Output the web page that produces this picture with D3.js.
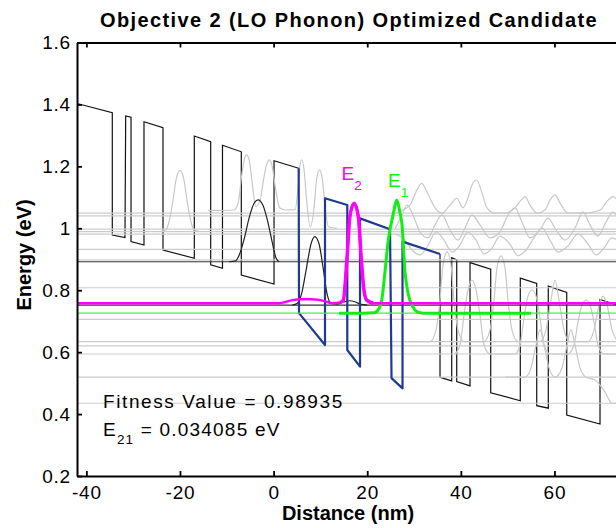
<!DOCTYPE html>
<html>
<head>
<meta charset="utf-8">
<script src="https://cdn.jsdelivr.net/npm/d3@7/dist/d3.min.js"></script>
<style>
  body { margin: 0; background: #fff; }
  svg { display: block; font-family: "Liberation Sans", Arial, sans-serif; }
  .axis text { font-size: 19px; fill: #000; letter-spacing: 0.8px; }
  .axis path, .axis line { stroke: #000; }
</style>
</head>
<body>
<script>
// tick values
var xTicks = [-40, -20, 0, 20, 40, 60];
var yTicks = [0.2, 0.4, 0.6, 0.8, 1.0, 1.2, 1.4, 1.6];

// conduction band edge, left (black) part: [nm, eV]
var bandLeft = [
    [-42, 1.403], [-34.46, 1.373], [-34.46, 0.978], [-31.75, 0.970],
    [-31.6, 1.363], [-30.46, 1.359], [-30.46, 0.957], [-27.69, 0.946],
    [-27.69, 1.344], [-23.63, 1.325], [-23.63, 0.930], [-16.94, 0.903],
    [-16.94, 1.298], [-13.44, 1.280], [-13.44, 0.882], [-10.92, 0.871],
    [-10.92, 1.268], [-6.9, 1.247], [-6.9, 0.849], [0.09, 0.820],
    [0.09, 1.218], [5.36, 1.194]
];

// active region (blue)
var bandActive = [
    [5.36, 1.194], [5.43, 0.726], [10.98, 0.623], [10.98, 1.097],
    [15.74, 1.075], [15.74, 0.607], [18.46, 0.553], [18.46, 1.032],
    [24.87, 0.997], [25.19, 0.516], [27.54, 0.483], [27.54, 0.957],
    [35.55, 0.917]
];

// band edge, right (black) part
var bandRight = [
    [35.55, 0.917], [35.55, 0.519], [38.05, 0.507], [38.05, 0.905],
    [39.12, 0.898], [39.12, 0.505], [41.96, 0.491], [41.96, 0.889],
    [46.38, 0.868], [46.38, 0.469], [52.7, 0.443], [52.7, 0.839],
    [56.21, 0.822], [56.21, 0.427], [58.68, 0.419], [58.68, 0.813],
    [62.62, 0.793], [62.62, 0.397], [69.73, 0.368], [69.73, 0.770],
    [74, 0.749]
];

// eigen-energies (eV)
var grayLevels = [1.049, 1.040, 0.997, 0.989, 0.981, 0.932, 0.898, 0.808,
                  0.706, 0.634, 0.620, 0.594, 0.519, 0.435];
var blackLevels = [0.892, 0.752];
var e2Level = 0.758;
var e1Level = 0.726;

// gray wavefunctions
var waveG1 = [[-24, 0.990], [-23, 0.995], [-22.2, 1.03], [-21.5, 1.09], [-20.8, 1.16],
    [-20, 1.187], [-19.2, 1.16], [-18.5, 1.09], [-17.8, 1.03], [-17, 0.995], [-16, 0.990]];
var waveG2 = [[-14, 1.057], [-8.5, 1.059], [-7.6, 1.08], [-6.9, 1.16], [-6.3, 1.22],
    [-5.8, 1.237], [-5.2, 1.22], [-4.6, 1.15], [-3.8, 1.07], [-2.9, 1.09], [-2.0, 1.17],
    [-1.4, 1.21], [-0.9, 1.221], [-0.3, 1.20], [0.4, 1.13], [1.3, 1.066], [2.5, 1.059],
    [4.6, 1.06], [5.2, 1.13], [5.6, 1.20], [6.0, 1.221], [6.5, 1.19], [7.0, 1.10],
    [7.8, 1.005], [8.6, 1.06], [9.2, 1.16], [9.8, 1.188], [10.4, 1.16], [11.0, 1.07],
    [11.7, 1.005], [13.5, 1.0]];
var waveR1 = [[25.93, 1.049], [29.14, 1.075], [30.63, 1.124], [31.64, 1.145], [32.77, 1.117],
    [34.48, 1.066], [35.98, 1.049], [37.68, 1.075], [39.12, 1.097], [40.46, 1.066],
    [41.53, 1.098], [42.38, 1.140], [43.39, 1.156], [44.31, 1.124], [45.59, 1.066],
    [47.30, 1.049], [49.43, 1.049], [51.57, 1.066], [52.85, 1.091], [53.71, 1.102],
    [54.78, 1.075], [56.27, 1.049], [57.98, 1.059], [59.05, 1.091], [60.12, 1.108],
    [61.18, 1.082], [62.89, 1.049], [66.53, 1.049], [69.73, 1.059], [71.44, 1.091],
    [72.57, 1.102], [74, 1.075]];
var waveR2 = [[25.93, 0.998], [27.43, 1.043], [28.50, 1.075], [29.78, 1.043], [31.28, 0.988],
    [32.99, 0.969], [34.48, 1.011], [35.98, 1.043], [37.68, 0.995], [39.39, 0.962],
    [40.89, 1.001], [42.38, 1.043], [44.09, 1.011], [46.23, 0.969], [48.36, 0.988],
    [50.07, 1.043], [51.57, 1.066], [53.06, 1.020], [54.78, 0.969], [56.91, 0.995],
    [58.62, 1.033], [60.33, 0.995], [62.25, 0.962], [64.39, 1.001], [66.10, 1.053],
    [67.59, 1.011], [69.30, 0.975], [71.01, 1.020], [72.51, 1.053], [74, 1.011]];
var waveR3 = [[25.93, 0.982], [28.07, 0.962], [29.57, 0.930], [31.28, 0.914], [32.99, 0.946],
    [34.70, 0.988], [36.41, 0.962], [38.11, 0.923], [39.82, 0.946], [41.53, 0.988],
    [43.24, 0.962], [44.95, 0.917], [46.66, 0.936], [48.36, 0.975], [50.50, 0.949],
    [52.21, 0.911], [53.92, 0.930], [55.63, 0.969], [57.34, 1.001], [59.05, 0.962],
    [60.76, 0.923], [62.89, 0.943], [65.03, 0.982], [67.17, 0.949], [68.88, 0.914],
    [70.58, 0.936], [72.29, 0.969], [74, 0.956]];
var waveL1 = [[28.07, 0.634], [33.41, 0.634], [34.70, 0.672], [35.55, 0.768], [36.19, 0.882],
    [37.05, 0.924], [37.90, 0.882], [38.54, 0.768], [39.39, 0.672], [40.68, 0.634],
    [44.95, 0.634], [46.23, 0.672], [47.08, 0.768], [47.72, 0.872], [48.58, 0.911],
    [49.43, 0.872], [50.07, 0.768], [50.92, 0.672], [52.21, 0.634], [56.91, 0.634],
    [58.19, 0.672], [59.26, 0.768], [60.12, 0.833], [60.97, 0.768], [62.04, 0.672],
    [63.32, 0.634], [67.17, 0.634], [68.45, 0.672], [69.52, 0.752], [70.37, 0.781],
    [71.23, 0.752], [72.29, 0.672], [73.57, 0.634]];
var waveL2 = [[38.75, 0.594], [39.82, 0.623], [40.68, 0.720], [41.53, 0.801], [42.38, 0.833],
    [43.24, 0.801], [44.09, 0.720], [44.95, 0.623], [46.23, 0.594], [51.57, 0.594],
    [52.64, 0.623], [53.49, 0.710], [54.35, 0.781], [55.20, 0.801], [56.06, 0.781],
    [56.91, 0.710], [57.77, 0.623], [59.05, 0.594], [62.89, 0.594], [64.17, 0.623],
    [65.03, 0.697], [65.88, 0.752], [66.74, 0.768], [67.59, 0.752], [68.45, 0.697],
    [69.30, 0.623], [70.58, 0.594], [74, 0.594]];
var waveL3 = [[49.43, 0.519], [53.71, 0.519], [54.99, 0.549], [56.06, 0.623], [56.91, 0.672],
    [57.77, 0.623], [58.84, 0.549], [60.12, 0.519], [61.61, 0.549], [62.68, 0.623],
    [63.53, 0.672], [64.39, 0.623], [65.46, 0.549], [66.74, 0.519], [68.66, 0.510],
    [70.80, 0.471], [72.29, 0.435], [74, 0.435]];

// black wavefunctions
var waveB1 = [[-9.5, 0.892], [-8.2, 0.894], [-7.3, 0.915], [-6.3, 0.965], [-5.2, 1.035],
    [-4.2, 1.080], [-3.3, 1.092], [-2.3, 1.075], [-1.3, 1.025], [-0.3, 0.955],
    [0.5, 0.905], [1.2, 0.892]];
var waveB2 = [[4.0, 0.752], [5.0, 0.757], [6.0, 0.79], [7.0, 0.87], [8.0, 0.95], [8.8, 0.973],
    [9.7, 0.95], [10.6, 0.87], [11.4, 0.79], [12.3, 0.757], [13.5, 0.755], [15.0, 0.762],
    [16.3, 0.766], [17.5, 0.762], [18.7, 0.754], [20, 0.752]];

// E2 (magenta) and E1 (green) wavefunctions
var waveE2 = [[-42, 0.758], [1.0, 0.758], [2.5, 0.762], [4.0, 0.768], [6.0, 0.771],
    [8.0, 0.771], [10.0, 0.768], [11.5, 0.762], [12.5, 0.758], [14.2, 0.760], [14.9, 0.768],
    [15.7, 0.908], [16.3, 1.038], [17.2, 1.081], [18.1, 1.038], [18.7, 0.908], [19.3, 0.80],
    [19.9, 0.768], [21.3, 0.758], [74, 0.758]];
var waveE1 = [[14, 0.726], [19, 0.726], [21.5, 0.727], [22.5, 0.74], [23.1, 0.768],
    [23.8, 0.86], [24.5, 0.962], [25.6, 1.049], [26.3, 1.091], [27.0, 1.05], [27.4, 1.016],
    [28.1, 0.855], [28.6, 0.80], [29.1, 0.768], [29.8, 0.745], [30.6, 0.731], [32, 0.726],
    [55, 0.726]];

var width = 616, height = 528;
var margin = {top: 42.5, left: 77, bottom: 52};

var svg = d3.select("body").append("svg")
    .attr("width", width)
    .attr("height", height);

var x = d3.scaleLinear().domain([-42, 74]).range([margin.left, 620]);
var y = d3.scaleLinear().domain([0.2, 1.6]).range([height - margin.bottom, margin.top]);

svg.append("clipPath").attr("id", "plot")
    .append("rect")
    .attr("x", margin.left).attr("y", margin.top)
    .attr("width", 620 - margin.left).attr("height", y(0.2) - margin.top);

var plot = svg.append("g").attr("clip-path", "url(#plot)");

var line = d3.line().x(function(d) { return x(d[0]); }).y(function(d) { return y(d[1]); });
var smooth = d3.line().curve(d3.curveMonotoneX)
    .x(function(d) { return x(d[0]); }).y(function(d) { return y(d[1]); });

// black band edge first, gray lines drawn over it like in the original
[bandLeft, bandRight].forEach(function(b) {
    plot.append("path").attr("d", line(b))
        .attr("fill", "none").attr("stroke", "#111").attr("stroke-width", 1.2);
});

plot.selectAll(".level").data(grayLevels).enter().append("line")
    .attr("class", "level")
    .attr("x1", x(-42)).attr("x2", x(74))
    .attr("y1", function(d) { return y(d); }).attr("y2", function(d) { return y(d); })
    .attr("stroke", "#cccccc").attr("stroke-width", 1.2);

[waveG1, waveG2, waveR1, waveR2, waveR3, waveL1, waveL2, waveL3].forEach(function(w) {
    plot.append("path").attr("d", smooth(w))
        .attr("fill", "none").attr("stroke", "#c8c8c8").attr("stroke-width", 1.2);
});

// black levels + wavefunctions
plot.selectAll(".blevel").data(blackLevels).enter().append("line")
    .attr("class", "blevel")
    .attr("x1", x(-42)).attr("x2", x(74))
    .attr("y1", function(d) { return y(d); }).attr("y2", function(d) { return y(d); })
    .attr("stroke", "#333").attr("stroke-width", 1.2);

[waveB1, waveB2].forEach(function(w) {
    plot.append("path").attr("d", smooth(w))
        .attr("fill", "none").attr("stroke", "#222").attr("stroke-width", 1.2);
});

// active region in blue
plot.append("path").attr("d", line(bandActive))
    .attr("fill", "none").attr("stroke", "#1f3a8f").attr("stroke-width", 2.2)
    .attr("stroke-linejoin", "round");

// E1 green: thin level, thick wavefunction
plot.append("line")
    .attr("x1", x(-42)).attr("x2", x(74))
    .attr("y1", y(e1Level)).attr("y2", y(e1Level))
    .attr("stroke", "#44ee44").attr("stroke-width", 1.4);
plot.append("path").attr("d", smooth(waveE1))
    .attr("fill", "none").attr("stroke", "#11ee11").attr("stroke-width", 3);

// E2 magenta
plot.append("path").attr("d", smooth(waveE2))
    .attr("fill", "none").attr("stroke", "#ff00ff").attr("stroke-width", 2.5);
plot.append("path").attr("d", smooth(waveE2.filter(function(d) { return d[0] > 14 && d[0] < 22; })))
    .attr("fill", "none").attr("stroke", "#ff00ff").attr("stroke-width", 3.5);

// axes
var yAxis = svg.append("g").attr("class", "axis")
    .attr("transform", "translate(" + margin.left + ",0)")
    .call(d3.axisLeft(y).tickValues(yTicks).tickSize(-5).tickSizeOuter(0).tickPadding(6)
        .tickFormat(function(d) { return String(+d.toFixed(1)); }));

var xAxis = svg.append("g").attr("class", "axis")
    .attr("transform", "translate(0," + y(0.2) + ")")
    .call(d3.axisBottom(x).tickValues(xTicks).tickSize(-5).tickSizeOuter(0).tickPadding(10)
        .tickFormat(function(d) { return String(d); }));

var topAxis = svg.append("g").attr("class", "axis")
    .attr("transform", "translate(0," + margin.top + ")")
    .call(d3.axisTop(x).tickValues(xTicks).tickSize(-5).tickSizeOuter(0).tickFormat(""));

svg.selectAll(".axis .domain").attr("stroke-width", 2);
svg.selectAll(".axis .tick line").attr("stroke-width", 1.8);

// title and labels
svg.append("text")
    .attr("x", 349).attr("y", 27)
    .attr("text-anchor", "middle")
    .style("font-size", "20px").style("font-weight", "bold").style("letter-spacing", "1.4px")
    .text("Objective 2 (LO Phonon) Optimized Candidate");

svg.append("text")
    .attr("transform", "translate(31,255) rotate(-90)")
    .attr("text-anchor", "middle")
    .style("font-size", "20px").style("font-weight", "bold")
    .text("Energy (eV)");

svg.append("text")
    .attr("x", 348).attr("y", 520)
    .attr("text-anchor", "middle")
    .style("font-size", "20px").style("font-weight", "bold")
    .text("Distance (nm)");

// annotations
svg.append("text")
    .attr("x", 103).attr("y", 408)
    .style("font-size", "19px").style("letter-spacing", "1.6px")
    .text("Fitness Value = 0.98935");

var e21 = svg.append("text").attr("x", 103).attr("y", 436)
    .style("font-size", "19px").style("letter-spacing", "1.2px");
e21.append("tspan").text("E");
e21.append("tspan").attr("dy", 8).style("font-size", "13.5px").text("21");
e21.append("tspan").attr("dy", -8).text(" = 0.034085 eV");

var lab2 = svg.append("text").attr("x", 341.5).attr("y", 180)
    .style("font-size", "19px").attr("fill", "#ff00ff");
lab2.append("tspan").text("E");
lab2.append("tspan").attr("dy", 10).style("font-size", "13.5px").text("2");

var lab1 = svg.append("text").attr("x", 388).attr("y", 186.7)
    .style("font-size", "19px").attr("fill", "#11ee11");
lab1.append("tspan").text("E");
lab1.append("tspan").attr("dy", 10).style("font-size", "13.5px").text("1");
</script>
</body>
</html>
